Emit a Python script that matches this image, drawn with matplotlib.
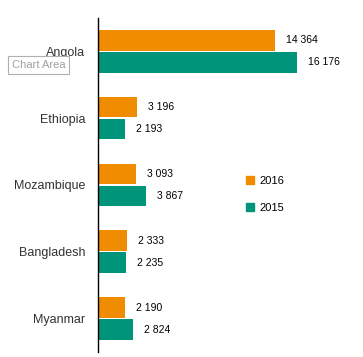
import numpy as np
import matplotlib
matplotlib.use("Agg")
import matplotlib.pyplot as plt
from matplotlib.patches import Patch

# data
countries = ["Angola", "Ethiopia", "Mozambique", "Bangladesh", "Myanmar"]
vals_2016 = [14364, 3196, 3093, 2333, 2190]
vals_2015 = [16176, 2193, 3867, 2235, 2824]

orange = "#f08c00"
green = "#00957a"

plt.rcParams["font.family"] = ["Liberation Sans", "DejaVu Sans"]

fig = plt.figure(figsize=(3.63, 3.57), dpi=100)
ax = fig.add_axes([0.27, 0.014, 0.678, 0.936])

y = np.arange(len(countries))
h = 0.31
off = 0.165
ax.barh(y - off, vals_2016, height=h, color=orange, label="2016")
ax.barh(y + off, vals_2015, height=h, color=green, label="2015")

def fmt(v):
    return "{:,}".format(v).replace(",", " ")

for i in range(len(countries)):
    ax.text(vals_2016[i] + 900, y[i] - off, fmt(vals_2016[i]), va="center", ha="left", fontsize=7.5)
    ax.text(vals_2015[i] + 900, y[i] + off, fmt(vals_2015[i]), va="center", ha="left", fontsize=7.5)

ax.set_xlim(0, 20000)
ax.set_ylim(len(countries) - 0.5, -0.5)
ax.set_yticks(y)
ax.set_yticklabels(countries, fontsize=9, color="#333333")
ax.tick_params(axis="y", length=0, pad=9)
ax.set_xticks([])
for s in ["top", "right", "bottom"]:
    ax.spines[s].set_visible(False)
ax.spines["left"].set_linewidth(1)
ax.spines["left"].set_color("black")

handles = [Patch(color=orange, label="2016"), Patch(color=green, label="2015")]
ax.legend(handles=handles, loc="upper left", bbox_to_anchor=(0.56, 0.557), frameon=False,
          fontsize=8, handlelength=0.7, handleheight=0.7, labelspacing=1.5, handletextpad=0.5)

# tooltip left over in the screenshot
fig.text(0.032, 0.818, "Chart Area", fontsize=8, color="#a0a0a0", ha="left", va="center",
         bbox=dict(boxstyle="square,pad=0.35", fc="white", ec="#b0b0b0", lw=0.8))

fig.savefig("out.png", dpi=100)
